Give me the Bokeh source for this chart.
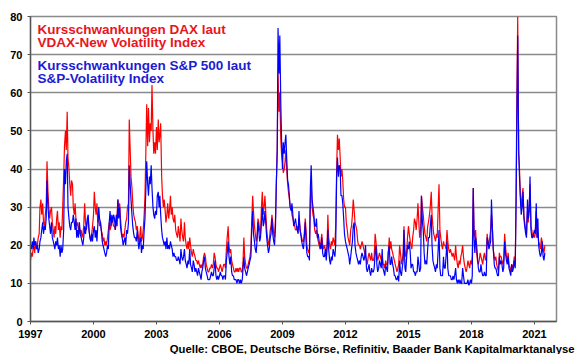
import pandas as pd
from bokeh.plotting import figure
from bokeh.models import Range1d, FixedTicker, Label, Title
from bokeh.embed import file_html
from bokeh.resources import INLINE

# Semi-monthly readings (1st and 15th of each month), Jan 1997 - Jul 2021
# S&P 500 volatility (VIX) - blue
vix = [
    20, 19, 21, 19, 22, 20, 21, 19, 20, 18, 19, 21, 22, 24, 26, 23, 25, 24, 27, 37, 30, 27, 25, 23,  # 1997
    26, 22, 21, 20, 19, 21, 20, 22, 19, 20, 17, 20, 18, 19, 24, 40, 36, 42, 44, 30, 27, 25, 24, 26,  # 1998
    26, 28, 26, 24, 27, 22, 24, 22, 26, 23, 22, 21, 20, 22, 25, 23, 25, 27, 28, 24, 22, 21, 23, 21,  # 1999
    24, 25, 22, 24, 21, 25, 30, 27, 26, 24, 21, 20, 19, 18, 17, 18, 20, 19, 26, 29, 25, 28, 26, 28,  # 2000
    27, 24, 28, 25, 32, 27, 30, 25, 23, 22, 20, 21, 22, 20, 24, 23, 26, 41, 36, 32, 28, 25, 23, 22,  # 2001
    22, 21, 24, 21, 19, 21, 22, 18, 20, 19, 24, 27, 35, 42, 36, 33, 38, 36, 41, 35, 30, 28, 27, 29,  # 2002
    28, 33, 34, 30, 33, 28, 24, 22, 21, 20, 21, 19, 22, 19, 20, 19, 21, 20, 19, 17, 18, 17, 17, 16,  # 2003
    16, 17, 16, 15, 19, 17, 16, 17, 19, 16, 15, 14, 16, 15, 19, 15, 14, 13, 16, 15, 13, 14, 13, 12,  # 2004
    14, 13, 12, 11, 13, 14, 16, 17, 14, 13, 12, 11, 11, 11, 12, 13, 12, 12, 14, 16, 12, 11, 12, 11,  # 2005
    12, 13, 12, 12, 11, 12, 12, 11, 16, 18, 21, 17, 15, 17, 13, 12, 12, 11, 11, 11, 10, 11, 11, 10,  # 2006
    11, 10, 11, 14, 17, 14, 13, 12, 13, 14, 15, 16, 17, 24, 29, 23, 21, 19, 18, 21, 26, 24, 21, 22,  # 2007
    26, 30, 25, 26, 29, 26, 22, 20, 18, 19, 22, 23, 27, 23, 21, 20, 25, 36, 45, 77, 65, 75, 58, 48,  # 2008
    40, 47, 44, 47, 49, 43, 37, 36, 33, 30, 29, 31, 28, 25, 26, 27, 25, 24, 23, 29, 24, 23, 21, 20,  # 2009
    19, 22, 26, 21, 18, 17, 17, 16, 35, 41, 32, 30, 28, 25, 25, 27, 22, 23, 21, 20, 19, 22, 18, 17,  # 2010
    17, 19, 16, 19, 24, 19, 16, 15, 17, 16, 19, 18, 17, 20, 38, 43, 38, 41, 40, 33, 33, 31, 27, 23,  # 2011
    21, 20, 19, 18, 17, 15, 17, 19, 21, 25, 26, 20, 18, 17, 16, 15, 16, 15, 17, 18, 17, 16, 17, 20,  # 2012
    14, 13, 14, 15, 13, 12, 14, 13, 13, 14, 18, 20, 15, 13, 14, 16, 15, 14, 19, 14, 13, 12, 15, 14,  # 2013
    13, 18, 20, 15, 15, 17, 15, 14, 12, 12, 11, 11, 12, 10.5, 16, 13, 12, 14, 16, 24, 14, 13, 17, 20,  # 2014
    19, 21, 18, 14, 15, 15, 13, 13, 12, 13, 13, 17, 15, 13, 14, 33, 26, 24, 18, 15, 16, 15, 19, 22,  # 2015
    22, 25, 28, 20, 16, 15, 14, 13, 15, 14, 19, 24, 14, 12, 12, 12, 17, 14, 14, 17, 21, 14, 12, 12,  # 2016
    12, 11, 11, 12, 11, 12, 14, 11, 10, 11, 10, 11, 10, 10, 14, 12, 10, 10, 10, 10, 11, 9.5, 10, 11,  # 2017
    10, 12, 35, 22, 18, 22, 20, 17, 14, 13, 13, 15, 13, 12, 12, 13, 12, 12, 22, 21, 19, 20, 21, 32,  # 2018
    24, 19, 15, 14, 14, 13, 12, 12, 17, 15, 16, 15, 13, 14, 21, 18, 16, 15, 17, 14, 13, 12, 15, 13,  # 2019
    14, 16, 14, 30, 54, 75, 45, 38, 32, 28, 30, 34, 27, 25, 23, 22, 32, 27, 29, 38, 24, 22, 22, 23,  # 2020
    24, 23, 31, 22, 27, 20, 18, 17, 18, 21, 17, 16, 18,                                              # 2021
]

# DAX volatility (VDAX-New) - red
vdax = [
    16, 18, 17, 19, 20, 18, 21, 19, 20, 22, 23, 30, 32, 28, 31, 26, 25, 28, 30, 42, 34, 30, 27, 29,  # 1997
    30, 26, 24, 22, 25, 23, 27, 29, 24, 26, 22, 25, 24, 30, 38, 46, 50, 45, 55, 43, 40, 36, 33, 37,  # 1998
    36, 30, 28, 31, 27, 25, 26, 24, 25, 23, 24, 22, 23, 25, 31, 26, 24, 26, 27, 24, 22, 21, 23, 25,  # 1999
    28, 34, 30, 28, 31, 26, 27, 25, 26, 24, 23, 21, 22, 20, 21, 20, 22, 24, 26, 24, 25, 27, 26, 25,  # 2000
    25, 24, 26, 28, 32, 30, 31, 27, 24, 22, 23, 22, 24, 26, 27, 30, 31, 53, 45, 38, 35, 31, 28, 27,  # 2001
    26, 24, 25, 23, 21, 22, 25, 21, 22, 24, 28, 33, 45, 57, 46, 56, 47, 52, 50, 62, 50, 44, 47, 44,  # 2002
    51, 45, 53, 47, 49, 52, 38, 33, 30, 32, 29, 26, 28, 31, 27, 29, 33, 28, 30, 27, 26, 28, 24, 23,  # 2003
    22, 25, 23, 21, 27, 24, 22, 21, 26, 22, 20, 19, 21, 19, 22, 20, 18, 17, 19, 18, 17, 16, 16, 15,  # 2004
    16, 15, 14, 15, 14, 15, 17, 18, 17, 15, 14, 13, 13, 14, 14, 15, 14, 15, 18, 17, 15, 14, 14, 13,  # 2005
    14, 15, 14, 13, 14, 15, 15, 14, 19, 22, 25, 20, 18, 19, 16, 15, 14, 13, 13, 14, 13, 14, 13, 14,  # 2006
    14, 13, 13, 16, 22, 17, 15, 14, 14, 15, 16, 17, 19, 26, 33, 29, 25, 23, 21, 22, 27, 26, 24, 23,  # 2007
    30, 34, 28, 30, 33, 29, 24, 22, 20, 21, 24, 25, 28, 26, 23, 22, 27, 36, 45, 65, 55, 60, 48, 44,  # 2008
    42, 39, 40, 42, 45, 40, 36, 34, 32, 30, 30, 28, 27, 26, 25, 24, 24, 25, 24, 27, 25, 23, 22, 21,  # 2009
    21, 23, 27, 24, 20, 19, 18, 19, 32, 36, 30, 28, 27, 24, 23, 24, 22, 21, 20, 19, 21, 23, 20, 19,  # 2010
    20, 19, 18, 20, 28, 22, 20, 19, 21, 20, 22, 21, 20, 25, 40, 49, 45, 48, 43, 38, 40, 37, 32, 30,  # 2011
    30, 26, 24, 22, 21, 20, 24, 25, 28, 32, 29, 26, 25, 24, 21, 20, 20, 19, 20, 21, 20, 19, 18, 17,  # 2012
    16, 15, 17, 18, 17, 16, 18, 16, 16, 17, 23, 21, 18, 16, 17, 18, 17, 16, 17, 15, 15, 14, 16, 15,  # 2013
    15, 18, 22, 19, 21, 19, 18, 17, 16, 15, 14, 13, 14, 15, 20, 18, 15, 16, 18, 25, 19, 17, 18, 22,  # 2014
    25, 23, 21, 20, 19, 22, 24, 27, 26, 24, 27, 31, 26, 22, 24, 33, 30, 28, 25, 23, 22, 21, 25, 26,  # 2015
    28, 30, 34, 28, 25, 23, 22, 21, 23, 22, 30, 36, 24, 22, 20, 19, 21, 20, 20, 19, 24, 21, 19, 18,  # 2016
    19, 18, 17, 18, 17, 16, 20, 17, 15, 14, 16, 15, 17, 18, 20, 17, 15, 14, 13, 14, 16, 15, 14, 16,  # 2017
    15, 17, 35, 24, 22, 24, 18, 16, 15, 16, 18, 17, 16, 15, 17, 18, 16, 17, 23, 21, 20, 22, 24, 28,  # 2018
    24, 19, 17, 16, 17, 15, 14, 13, 18, 17, 17, 16, 15, 16, 23, 20, 17, 16, 18, 15, 14, 13, 15, 14,  # 2019
    15, 17, 15, 32, 60, 80, 44, 40, 33, 30, 33, 35, 28, 26, 24, 23, 29, 26, 30, 36, 25, 24, 22, 23,  # 2020
    22, 23, 29, 22, 23, 21, 20, 19, 22, 21, 19, 18, 20,                                              # 2021
]

y_ticks = [0, 10, 20, 30, 40, 50, 60, 70, 80]
year_ticks = [1997, 2000, 2003, 2006, 2009, 2012, 2015, 2018, 2021]

dax_label = ["Kursschwankungen DAX laut", "VDAX-New Volatility Index"]
sp_label = ["Kursschwankungen S&P 500 laut", "S&P-Volatility Index"]
source = "Quelle: CBOE, Deutsche B\u00f6rse, Refinitiv, Baader Bank Kapitalmarktanalyse"

dates = pd.date_range("1997-01-01", periods=len(vix), freq="SMS")
t = (dates.year + (dates.dayofyear - 1) / 365.25).to_numpy()

FONT = "Liberation Sans"

p = figure(frame_width=526, frame_height=305, output_backend="svg", toolbar_location=None,
           x_range=Range1d(1997, 2022.05), y_range=Range1d(0, 80),
           min_border_left=30, min_border_right=22, min_border_top=16, min_border_bottom=8)
p.background_fill_color = "white"
p.border_fill_color = "white"
p.outline_line_color = "#8a8a8a"
p.outline_line_width = 1.5

p.xgrid.visible = False
p.ygrid.ticker = FixedTicker(ticks=y_ticks[1:])
p.ygrid.grid_line_color = "#8a8a8a"
p.ygrid.grid_line_width = 1.5

for ax in (p.xaxis[0], p.yaxis[0]):
    ax.axis_line_color = "#555555"
    ax.axis_line_width = 1.3
    ax.major_tick_line_color = "#555555"
    ax.major_tick_out = 3
    ax.major_tick_in = 0
    ax.minor_tick_line_color = None
    ax.major_label_text_font = FONT
    ax.major_label_text_font_style = "bold"
    ax.major_label_text_font_size = "11px"
    ax.major_label_text_color = "black"

p.yaxis.ticker = FixedTicker(ticks=y_ticks)
p.yaxis.major_label_standoff = 5
p.xaxis.ticker = FixedTicker(ticks=year_ticks)
p.xaxis.major_label_standoff = 5

p.line(t, vdax, line_color="#ff0000", line_width=1.2)
p.line(t, vix, line_color="#0000ff", line_width=1.2)

def add_text(x, y, text, color, size="13.5px"):
    p.add_layout(Label(x=x, y=y, text=text, text_color=color, text_font=FONT,
                       text_font_style="bold", text_font_size=size,
                       text_align="left", text_baseline="middle"))

add_text(1997.33, 76.6, dax_label[0], "#e8161c")
add_text(1997.33, 73.2, dax_label[1], "#e8161c")
add_text(1997.33, 67.1, sp_label[0], "#1c1cd2")
add_text(1997.33, 63.7, sp_label[1], "#1c1cd2")

p.add_layout(Title(text=source, align="right", offset=-18, text_font=FONT,
                   text_font_style="bold", text_font_size="11.3px", text_color="black",
                   standoff=0), "below")

open("out.html", "w").write(file_html(p, INLINE))
